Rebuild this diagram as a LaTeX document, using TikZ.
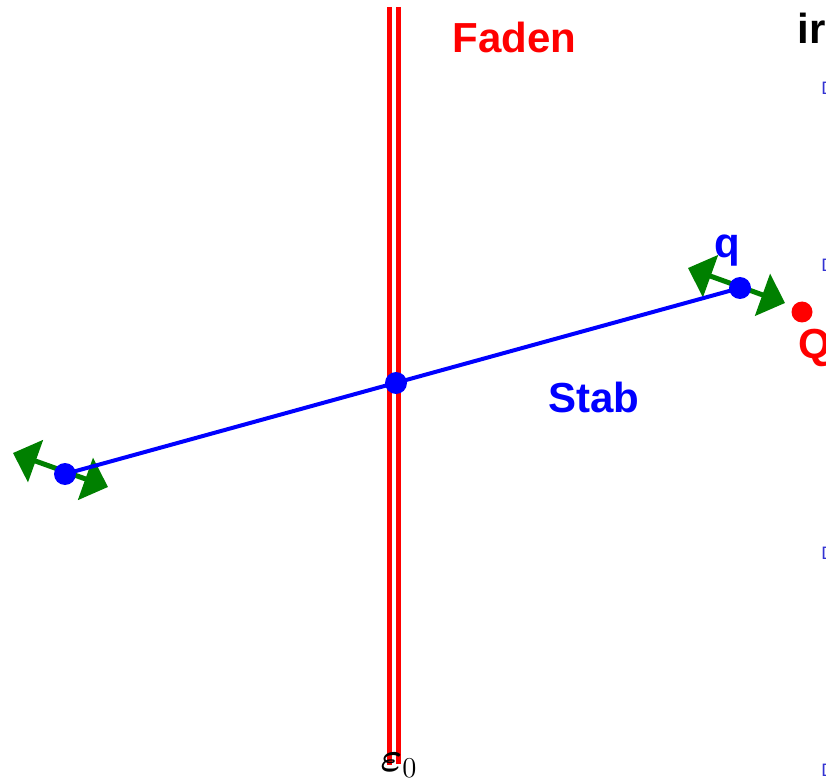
\documentclass[tikz,border=0pt]{standalone}
\usepackage{amsmath}
\usepackage{fontspec}
\setmainfont{Liberation Sans}
\usetikzlibrary{arrows.meta}
\definecolor{spingreen}{RGB}{0,128,0}
\definecolor{tickblue}{RGB}{50,50,210}

\begin{document}
\begin{tikzpicture}[x=.5pt,y=-.5pt,line width=.35pt,font=\bfseries\fontsize{21}{25}\selectfont,
  dot/.style={circle,fill=#1,inner sep=0pt,minimum size=11pt},dot/.default=blue,
  faden/.style={red,line width=2.5pt},
  stab/.style={blue,line width=2pt},
  spin/.style={spingreen,line width=2.5pt,{Triangle[length=12pt,width=22pt]}-{Triangle[length=12pt,width=22pt]}},
  lab/.style={anchor=base west,inner sep=0pt},
  dmark/.style={anchor=west,inner sep=0pt,text=tickblue,font=\fontsize{9}{10}\selectfont}]
\useasboundingbox (0,0) rectangle (826,781);
\clip (0,0) rectangle (826,781);
% Faden
\draw[faden] (389.5,7)--(389.5,765);
\draw[faden] (398.5,7)--(398.5,764);
% Stab mit Endpunkten
\coordinate (qL) at (65,474);\coordinate (qR) at (740,288);\coordinate (mid) at (396,383);
\coordinate (sL1) at (13,453);\coordinate (sL2) at (108,487);
\coordinate (sR1) at (688,268);\coordinate (sR2) at (785,303);
\draw[spin] (sL1)--(sL2);
\draw[spin] (sR1)--(sR2);
\draw[stab] (qL)--(qR);
\node[dot] (dotL) at (qL) {};\node[dot] (dotR) at (qR) {};\node[dot] (dotM) at (mid) {};
\node[dot=red,minimum size=10.5pt] (Q) at (802,312) {};
% Beschriftung
\node[lab,red] (faden) at (452,53) {Faden};
\node[lab,blue] (stablab) at (548,412) {Stab};
\node[lab,blue] (qlab) at (714,257) {q};
\node[lab,red] (Qlab) at (798,358) {Q};
\node[lab] (ir) at (797,44) {ir};
\node[font=\fontsize{22}{24}\selectfont] (eps) at (399,765) {$\boldsymbol{\varepsilon}_0$};
\node[dmark] (d1) at (821,88) {D};\node[dmark] (d2) at (821,265) {D};
\node[dmark] (d3) at (821,553) {D};\node[dmark] (d4) at (821,770) {D};
\end{tikzpicture}
\end{document}
